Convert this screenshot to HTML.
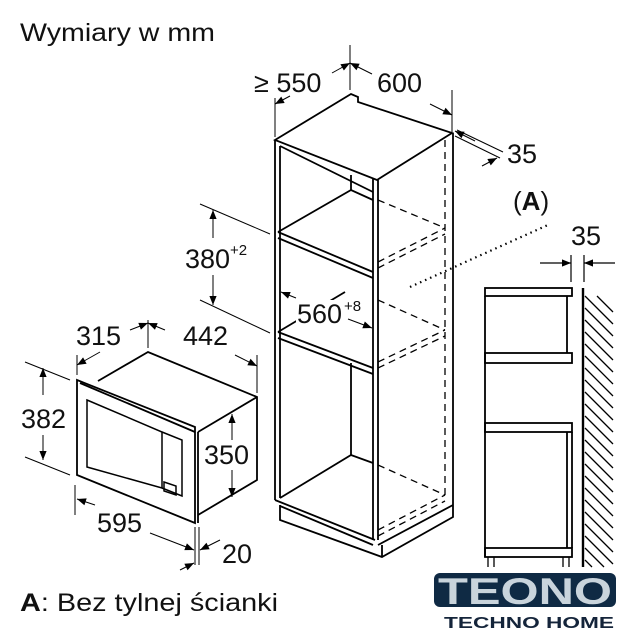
<!DOCTYPE html>
<html><head><meta charset="utf-8"><style>
html,body{margin:0;padding:0;background:#fff;}
svg{display:block;}
text{font-family:"Liberation Sans",sans-serif;fill:#111;}
</style></head><body>
<svg width="636" height="640" viewBox="0 0 636 640" xmlns="http://www.w3.org/2000/svg">
<defs>
<marker id="ar" viewBox="0 0 10 10" refX="10" refY="5" markerWidth="10" markerHeight="9" orient="auto-start-reverse" markerUnits="userSpaceOnUse"><path d="M0,1 L10,5 L0,9 z" fill="#000"/></marker>
</defs>
<text x="20" y="41" font-size="25" textLength="195" lengthAdjust="spacingAndGlyphs">Wymiary w mm</text>

<g stroke="#000" stroke-width="1.8" fill="none">
  <path d="M275,140 L351,94 L358,97 L358,102 L452,133 L377,180 Z"/>
  <line x1="275" y1="140" x2="275" y2="500"/>
  <line x1="280" y1="146" x2="280" y2="498"/>
  <line x1="373" y1="178" x2="373" y2="540"/>
  <line x1="378" y1="180" x2="378" y2="540"/>
  <line x1="280" y1="146" x2="373" y2="192"/>
  <path d="M278,232 L351,190 L373,200"/>
  <line x1="278" y1="232" x2="373" y2="272"/>
  <line x1="278" y1="238" x2="373" y2="278"/>
  <line x1="351" y1="175" x2="351" y2="190"/>
  <path d="M278,332 L345,292"/>
  <line x1="278" y1="332" x2="373" y2="368"/>
  <line x1="278" y1="338" x2="373" y2="374"/>
  <line x1="351" y1="363" x2="351" y2="455"/>
  <path d="M280,498 L351,455 L373,463"/>
  <line x1="275" y1="500" x2="375" y2="540"/>
  <line x1="280" y1="506" x2="373" y2="545"/>
  <path d="M280,505 L280,520 L382,557 L453,517 L453,505"/>
  <line x1="382" y1="545" x2="382" y2="557"/>
  <line x1="378" y1="545" x2="453" y2="505"/>
  <line x1="453" y1="133" x2="453" y2="505"/>
</g>
<g stroke="#000" stroke-width="1.3" fill="none" stroke-dasharray="7,5">
  <line x1="445" y1="140" x2="445" y2="500"/>
  <line x1="378" y1="200" x2="445" y2="228"/>
  <line x1="378" y1="262" x2="445" y2="228"/>
  <line x1="378" y1="268" x2="445" y2="234"/>
  <line x1="378" y1="300" x2="445" y2="330"/>
  <line x1="378" y1="362" x2="445" y2="330"/>
  <line x1="378" y1="368" x2="445" y2="336"/>
  <line x1="378" y1="465" x2="445" y2="495"/>
  <line x1="378" y1="530" x2="445" y2="495"/>
  <line x1="378" y1="536" x2="445" y2="501"/>
</g>
<path d="M410,287 L550,224" stroke="#000" stroke-width="2.2" stroke-dasharray="1.5,4" fill="none"/>

<g stroke="#000" stroke-width="1" fill="none">
  <line x1="275" y1="98" x2="275" y2="137"/>
  <line x1="350" y1="45" x2="350" y2="90"/>
  <line x1="452" y1="90" x2="452" y2="132"/>
  <line x1="290" y1="96" x2="275" y2="104" marker-end="url(#ar)"/>
  <line x1="332" y1="73" x2="350" y2="63" marker-end="url(#ar)"/>
  <line x1="372" y1="74" x2="350" y2="63" marker-end="url(#ar)"/>
  <line x1="430" y1="104" x2="452" y2="115" marker-end="url(#ar)"/>
  <line x1="455" y1="136" x2="500" y2="158"/>
  <line x1="457" y1="130" x2="503" y2="152"/>
  <line x1="475" y1="141" x2="455" y2="131" marker-end="url(#ar)"/>
  <line x1="200" y1="204" x2="270" y2="234"/>
  <line x1="200" y1="300" x2="270" y2="333"/>
  <line x1="213" y1="238" x2="213" y2="210" marker-end="url(#ar)"/>
  <line x1="213" y1="275" x2="213" y2="305" marker-end="url(#ar)"/>
  <line x1="296" y1="298" x2="281" y2="292" marker-end="url(#ar)"/>
  <line x1="348" y1="319" x2="372" y2="328" marker-end="url(#ar)"/>
</g>
<path d="M482,166 L497,158" stroke="#000" stroke-width="1" marker-end="url(#ar)"/>
<rect x="296" y="300" width="50" height="26" fill="#fff"/>
<text x="254" y="92" font-size="27">≥ 550</text>
<text x="377" y="92" font-size="27">600</text>
<text x="507" y="163" font-size="27">35</text>
<text x="185" y="268" font-size="27">380</text><text x="230" y="255" font-size="15">+2</text>
<text x="297" y="323" font-size="27">560</text><text x="344" y="311" font-size="15">+8</text>

<g stroke="#000" stroke-width="1.8" fill="none">
  <path d="M77,380 L77,475 L195,523 L195,427 Z"/>
  <path d="M80,383 L195,432"/>
  <path d="M98,381 L148,352 L257,397 L257,480 L198,515"/>
  <path d="M198,432 L257,397"/>
  <line x1="198" y1="432" x2="198" y2="523"/>
  <path d="M87,400 L162,432 L162,488 L87,467 Z" stroke-width="1.5"/>
  <path d="M162,432 L182,440 L182,496 L162,488" stroke-width="1.5"/>
  <path d="M164,482 L176,486 L176,495 L164,491 Z" stroke-width="1.5"/>
</g>
<g stroke="#000" stroke-width="1" fill="none">
  <line x1="77" y1="355" x2="77" y2="375"/>
  <line x1="148" y1="320" x2="148" y2="348"/>
  <line x1="257" y1="355" x2="257" y2="393"/>
  <line x1="100" y1="352" x2="77" y2="365" marker-end="url(#ar)"/>
  <line x1="130" y1="330" x2="148" y2="323" marker-end="url(#ar)"/>
  <line x1="165" y1="330" x2="148" y2="323" marker-end="url(#ar)"/>
  <line x1="235" y1="355" x2="257" y2="366" marker-end="url(#ar)"/>
  <line x1="25" y1="362" x2="70" y2="380"/>
  <line x1="25" y1="457" x2="70" y2="475"/>
  <line x1="43" y1="395" x2="43" y2="368" marker-end="url(#ar)"/>
  <line x1="43" y1="435" x2="43" y2="460" marker-end="url(#ar)"/>
  <line x1="232" y1="440" x2="232" y2="414" marker-end="url(#ar)"/>
  <line x1="232" y1="470" x2="232" y2="497" marker-end="url(#ar)"/>
  <line x1="75" y1="485" x2="75" y2="515"/>
  <line x1="195" y1="527" x2="195" y2="565"/>
  <line x1="199" y1="527" x2="199" y2="565"/>
  <line x1="95" y1="505" x2="77" y2="499" marker-end="url(#ar)"/>
  <line x1="150" y1="533" x2="194" y2="550" marker-end="url(#ar)"/>
  <line x1="220" y1="540" x2="200" y2="550" marker-end="url(#ar)"/>
  <line x1="180" y1="570" x2="194" y2="563" marker-end="url(#ar)"/>
</g>
<text x="76" y="345" font-size="27">315</text>
<text x="183" y="345" font-size="27">442</text>
<text x="21" y="428" font-size="27">382</text>
<text x="204" y="464" font-size="27">350</text>
<text x="97" y="532" font-size="27">595</text>
<text x="222" y="563" font-size="27">20</text>

<text x="513" y="210" font-size="26">(<tspan font-weight="bold">A</tspan>)</text>
<text x="571" y="245" font-size="27">35</text>
<g stroke="#000" stroke-width="1.8" fill="none">
  <rect x="485" y="288" width="87" height="8"/>
  <line x1="485" y1="296" x2="485" y2="557"/>
  <line x1="567" y1="296" x2="567" y2="353"/>
  <rect x="485" y="353" width="87" height="10"/>
  <rect x="485" y="423" width="87" height="9"/>
  <line x1="567" y1="432" x2="567" y2="548"/>
  <line x1="572" y1="432" x2="572" y2="548"/>
  <rect x="485" y="548" width="87" height="9"/>
  <path d="M488,557 V567 M494,557 V567 M563,557 V567 M569,557 V567" stroke-width="1.3"/>
  <line x1="583" y1="288" x2="583" y2="567" stroke-width="2.4"/>
</g>
<g stroke="#000" stroke-width="1.2">
  <line x1="571" y1="255" x2="571" y2="282"/>
  <line x1="584" y1="255" x2="584" y2="282"/>
  <line x1="540" y1="263" x2="571" y2="263" marker-end="url(#ar)"/>
  <line x1="615" y1="263" x2="584" y2="263" marker-end="url(#ar)"/>
</g>
<g stroke="#000" stroke-width="1.3">
  <path d="M585,296 L613,324 M585,308 L613,336 M585,320 L613,348 M585,332 L613,360 M585,344 L613,372 M585,356 L613,384 M585,368 L613,396 M585,380 L613,408 M585,392 L613,420 M585,404 L613,432 M585,416 L613,444 M585,428 L613,456 M585,440 L613,468 M585,452 L613,480 M585,464 L613,492 M585,476 L613,504 M585,488 L613,516 M585,500 L613,528 M585,512 L613,540 M585,524 L613,552 M585,536 L613,564 M585,548 L604,567 M585,560 L592,567 M597,296 L613,312"/>
</g>

<text x="20" y="611" font-size="25" textLength="258" lengthAdjust="spacingAndGlyphs"><tspan font-weight="bold">A</tspan>: Bez tylnej ścianki</text>

<rect x="434" y="573" width="182" height="34" rx="6" fill="#0f2a44"/>
<text x="438" y="604" font-size="37" font-weight="bold" textLength="174" lengthAdjust="spacingAndGlyphs" style="fill:#c9d4dc">TEONO</text>
<text x="444" y="628" font-size="16" font-weight="bold" textLength="170" lengthAdjust="spacingAndGlyphs" style="fill:#14243a">TECHNO HOME</text>
</svg>
</body></html>
